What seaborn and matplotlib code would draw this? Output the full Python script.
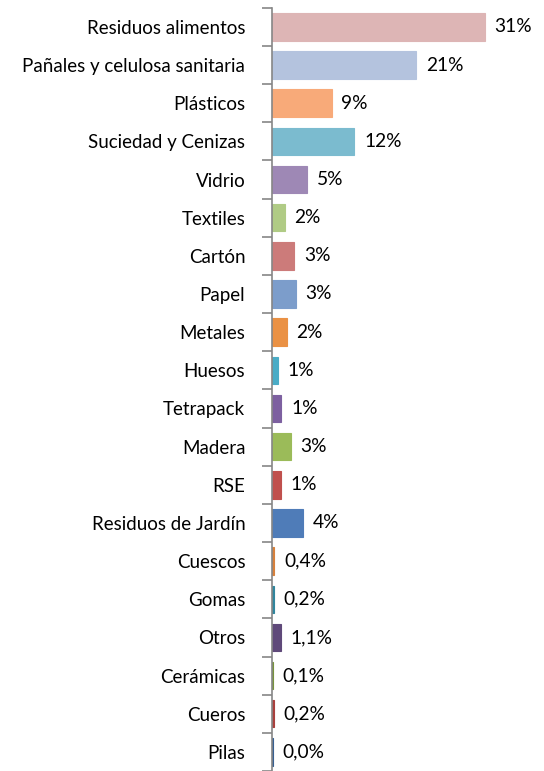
import numpy as np
import pandas as pd
import matplotlib.pyplot as plt
import seaborn as sns

categorias = ['Residuos alimentos', 'Pañales y celulosa sanitaria', 'Plásticos',
              'Suciedad y Cenizas', 'Vidrio', 'Textiles', 'Cartón', 'Papel', 'Metales',
              'Huesos', 'Tetrapack', 'Madera', 'RSE', 'Residuos de Jardín', 'Cuescos',
              'Gomas', 'Otros', 'Cerámicas', 'Cueros', 'Pilas']
porcentajes = [30.9, 21.0, 8.7, 12.0, 5.1, 1.9, 3.3, 3.5, 2.2, 0.9, 1.4, 2.8, 1.3, 4.5,
               0.4, 0.3, 1.3, 0.2, 0.3, 0.2]
etiquetas = ['31%', '21%', '9%', '12%', '5%', '2%', '3%', '3%', '2%', '1%', '1%', '3%',
             '1%', '4%', '0,4%', '0,2%', '1,1%', '0,1%', '0,2%', '0,0%']
colores = ['#DDB5B5', '#B4C3DE', '#F8AA79', '#7BBBCF', '#9E88B5', '#B0CB85', '#CC7B7A',
           '#7C9DCB', '#EA9144', '#4AACC6', '#7D60A0', '#9BBB59', '#C0504D', '#4F7CB8',
           '#D7813D', '#31869E', '#5F497A', '#77933C', '#A9403D', '#376092']

df = pd.DataFrame({'cat': categorias, 'pct': porcentajes})

sns.set_style('white')
plt.rcParams['font.family'] = ['Lato', 'DejaVu Sans']

fig = plt.figure(figsize=(5.44, 7.71), dpi=100)
ax = fig.add_axes([271.7 / 544, 0, 1 - 271.7 / 544, 1 - 7.8 / 771])
sns.barplot(data=df, x='pct', y='cat', hue='cat', palette=colores, legend=False,
            orient='h', width=0.72, saturation=1, linewidth=0.8, ax=ax)
for c in ax.patches:
    c.set_edgecolor(c.get_facecolor())

for cont, lab in zip(ax.containers, etiquetas):
    ax.bar_label(cont, labels=[lab], padding=7, fontsize=13.8, color='black')

ax.set_xlim(0, 39.5)
ax.set_ylim(19.4, -0.5)
ax.set_xlabel('')
ax.set_ylabel('')
ax.set_xticks([])
ax.set_yticks(range(len(categorias)))
ax.set_yticklabels(categorias, fontsize=13.5, color='black')
ax.tick_params(axis='y', which='major', left=False, length=0, pad=19)
ax.set_yticks(np.arange(-0.5, len(categorias), 1), minor=True)
ax.tick_params(axis='y', which='minor', left=True, length=7, width=1.2,
               color='#868686', direction='out')
for s in ['top', 'right', 'bottom']:
    ax.spines[s].set_visible(False)
ax.spines['left'].set_color('#868686')
ax.spines['left'].set_linewidth(1.2)

fig.savefig('out.png', dpi=100)
